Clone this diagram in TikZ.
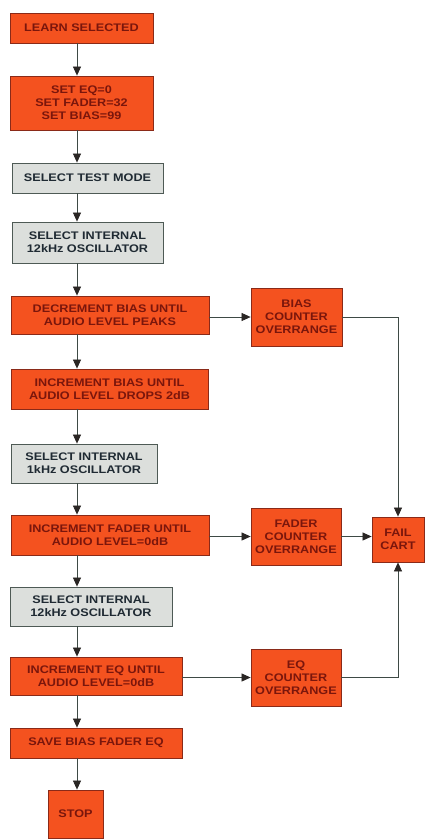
\documentclass[tikz,border=0pt]{standalone}
\usepackage{fontspec}
\setmainfont{Liberation Sans}[FakeStretch=1.15]
\usepackage{tikz}
\usetikzlibrary{arrows.meta}
\usetikzlibrary{calc}
\usetikzlibrary{positioning}
\usepackage{xcolor}

\definecolor{cartorange}{HTML}{F4521F}
\definecolor{cartedge}{HTML}{8A2A18}
\definecolor{carttext}{HTML}{7A160C}
\definecolor{testgrey}{HTML}{DCDFDC}
\definecolor{greyedge}{HTML}{4E5A55}
\definecolor{greytext}{HTML}{1F2A33}
\definecolor{wire}{HTML}{3E4A45}
\definecolor{tipdark}{HTML}{2A2624}

\begin{document}
\begin{tikzpicture}[ x=1pt, y=-1pt,
      >={Triangle[length=9pt,width=8pt,color=tipdark]},
      every node/.style={font=\fontsize{11}{13}\selectfont\bfseries, align=center,
        inner sep=1pt},
      stepbox/.style={draw=cartedge, fill=cartorange, text=carttext, line width=0.8pt},
      testbox/.style={draw=greyedge, fill=testgrey, text=greytext, line width=0.8pt},
      flow/.style={->, wire, line width=0.7pt} ]

      \useasboundingbox (0,0) rectangle (425,839);

      % Main column
      \node[stepbox, minimum width=143pt, minimum height=30pt] (learn) at (81.5,28)
      {LEARN SELECTED};
      \node[stepbox, minimum width=143pt, minimum height=54pt] (setvals) at (81.5,103)
      {SET EQ=0\\SET FADER=32\\SET BIAS=99};
      \node[testbox, minimum width=151pt, minimum height=30pt] (testmode) at (87.5,178)
      {SELECT TEST MODE};
      \node[testbox, minimum width=151pt, minimum height=41pt] (osctwelve) at (87.5,242.5)
      {SELECT INTERNAL\\12kHz OSCILLATOR};
      \node[stepbox, minimum width=198pt, minimum height=38pt] (decbias) at (110,315)
      {DECREMENT BIAS UNTIL\\AUDIO LEVEL PEAKS};
      \node[stepbox, minimum width=197pt, minimum height=40pt] (incbias) at (109.5,389)
      {INCREMENT BIAS UNTIL\\AUDIO LEVEL DROPS 2dB};
      \node[testbox, minimum width=146pt, minimum height=39pt] (oscone) at (84,463.5)
      {SELECT INTERNAL\\1kHz OSCILLATOR};
      \node[stepbox, minimum width=198pt, minimum height=40pt] (incfader) at (110,535)
      {INCREMENT FADER UNTIL\\AUDIO LEVEL=0dB};
      \node[testbox, minimum width=162pt, minimum height=39pt] (osctwelveb) at (91,606.5)
      {SELECT INTERNAL\\12kHz OSCILLATOR};
      \node[stepbox, minimum width=172pt, minimum height=38pt] (inceq) at (96,676)
      {INCREMENT EQ UNTIL\\AUDIO LEVEL=0dB};
      \node[stepbox, minimum width=172pt, minimum height=30pt] (save) at (96,743)
      {SAVE BIAS FADER EQ};
      \node[stepbox, minimum width=55pt, minimum height=48pt] (stop) at (75.5,814)
      {STOP};

      % Overrange boxes
      \node[stepbox, minimum width=91pt, minimum height=58pt] (biasover) at (296.5,317)
      {BIAS\\COUNTER\\OVERRANGE};
      \node[stepbox, minimum width=90pt, minimum height=57pt] (faderover) at (296,536.5)
      {FADER\\COUNTER\\OVERRANGE};
      \node[stepbox, minimum width=90pt, minimum height=57pt] (eqover) at (296,677.5)
      {EQ\\COUNTER\\OVERRANGE};
      \node[stepbox, minimum width=52pt, minimum height=45pt] (failcart) at (398,539.5)
      {FAIL\\CART};

      % Arrows down the column
      \coordinate (spine) at (77,0);
      \foreach \a/\b in {learn/setvals, setvals/testmode, testmode/osctwelve,
        osctwelve/decbias, decbias/incbias, incbias/oscone, oscone/incfader,
        incfader/osctwelveb, osctwelveb/inceq, inceq/save, save/stop}
      \draw[flow] (\a.south -| spine) -- (\b.north -| spine);

      % Arrows to the overrange boxes
      \draw[flow] (decbias.east |- biasover) -- (biasover.west);
      \draw[flow] (incfader.east |- faderover) -- (faderover.west);
      \draw[flow] (inceq.east |- eqover) -- (eqover.west);

      % Arrows to fail cart
      \draw[flow] (biasover.east) -| (failcart.north);
      \draw[flow] (faderover.east) -- (faderover.east -| failcart.west);
      \draw[flow] (eqover.east) -| (failcart.south);
    \end{tikzpicture}
\end{document}
